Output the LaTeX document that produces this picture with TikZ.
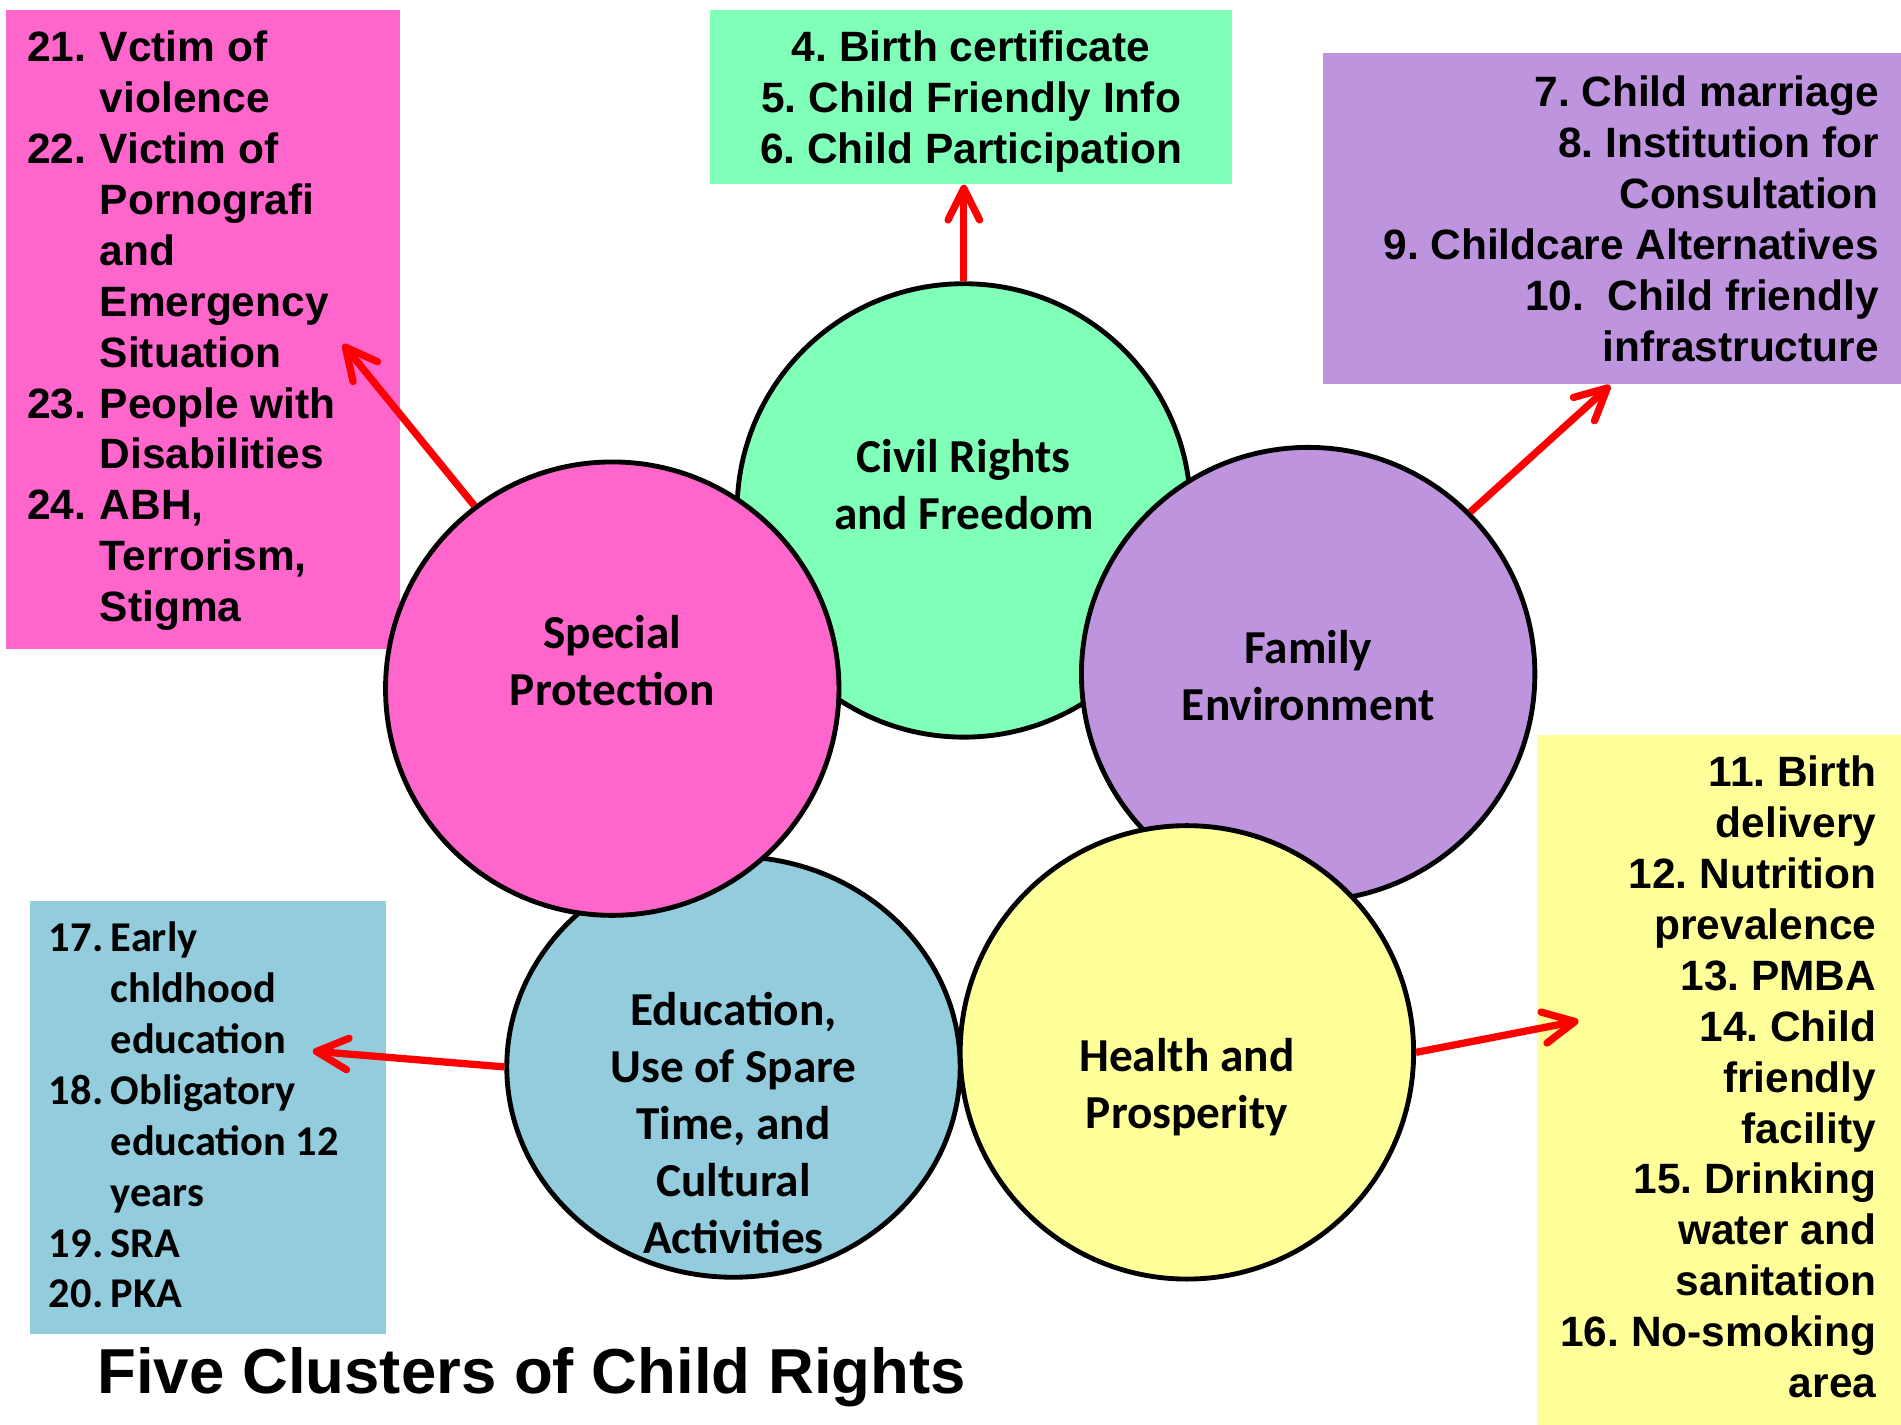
\documentclass[tikz,border=0pt]{standalone}
\usepackage{fontspec}
\setmainfont{Liberation Sans}[Ligatures=NoCommon]
\newfontfamily\calib{Carlito}
\usetikzlibrary{arrows.meta,shapes.geometric}
\definecolor{cpink}{HTML}{FF66CC}
\definecolor{cmint}{HTML}{80FFB9}
\definecolor{cpurp}{HTML}{BF94DE}
\definecolor{cyell}{HTML}{FFFF99}
\definecolor{cblue}{HTML}{93CDDD}
\frenchspacing
\tikzset{
  box/.style={rectangle, inner sep=0pt, draw=none},
  clus/.style={circle, draw=black, line width=2pt, inner sep=0pt, minimum size=187pt},
  boxtext/.style={inner sep=0pt, font=\frenchspacing\fontsize{17.5}{21}\selectfont\bfseries},
  caltext/.style={inner sep=0pt, font=\frenchspacing\calib\fontsize{17.5}{21}\selectfont\bfseries},
  circtext/.style={inner sep=0pt, anchor=north, font=\calib\fontsize{19.5}{23.5}\selectfont\bfseries},
  redarrow/.style={draw=red, line width=3pt, -{Straight Barb[length=13pt,width=13pt,round]}}
}
\begin{document}
\begin{tikzpicture}[x=0.5pt,y=-0.5pt]
\useasboundingbox (0,0) rectangle (1568,1175);
% boxes
\node[box, fill=cpink, minimum width=162.5pt, minimum height=263.5pt] (pbox) at (167.5,271.5) {};
\node[box, fill=cmint, minimum width=215pt, minimum height=72pt] (gbox) at (801,80) {};
\node[box, fill=cpurp, minimum width=238.5pt, minimum height=136.5pt] (fbox) at (1329.5,180.5) {};
\node[box, fill=cyell, minimum width=150pt, minimum height=284.5pt] (hbox) at (1418,890.5) {};
\node[box, fill=cblue, minimum width=146.5pt, minimum height=178.5pt] (ebox) at (171.5,921.5) {};
% box texts
\node[boxtext, anchor=north west] (ptext) at (22,21) {\begin{tabular}{@{}p{30pt}@{}l@{}}
21. & Vctim of\\
 & violence\\
22. & Victim of\\
 & Pornografi\\
 & and\\
 & Emergency\\
 & Situation\\
23. & People with\\
 & Disabilities\\
24. & ABH,\\
 & Terrorism,\\
 & Stigma
\end{tabular}};
\node[boxtext, anchor=north] (gtext) at (801,21) {\begin{tabular}{@{}c@{}}
4. Birth certificate\\
5. Child Friendly Info\\
6. Child Participation
\end{tabular}};
\node[boxtext, anchor=north east] (ftext) at (1550,58) {\begin{tabular}{@{}r@{}}
7. Child marriage\\
8. Institution for\\
Consultation\\
9. Childcare Alternatives\\
10.\ \ Child friendly\\
infrastructure
\end{tabular}};
\node[boxtext, anchor=north east] (htext) at (1548,619) {\begin{tabular}{@{}r@{}}
11. Birth\\
delivery\\
12. Nutrition\\
prevalence\\
13. PMBA\\
14. Child\\
friendly\\
facility\\
15. Drinking\\
water and\\
sanitation\\
16. No-smoking\\
area
\end{tabular}};
\node[caltext, anchor=north west] (etext) at (40,755) {\begin{tabular}{@{}p{25.5pt}@{}l@{}}
17. & Early\\
 & chldhood\\
 & education\\
18. & Obligatory\\
 & education 12\\
 & years\\
19. & SRA\\
20. & PKA
\end{tabular}};
% circles
\node[clus, fill=cmint] (gc) at (795,421) {};
\node[ellipse, draw=black, line width=2pt, inner sep=0pt, minimum width=187pt, minimum height=173.5pt, fill=cblue] (ec) at (605,880) {};
\node[clus, fill=cpurp] (fc) at (1079,556) {};
\node[clus, fill=cpink] (pc) at (505,568) {};
\node[clus, fill=cyell] (hc) at (979,868) {};
% circle texts
\node[circtext] (gct) at (795,356.6) {\begin{tabular}{@{}c@{}}Civil Rights\\and Freedom\end{tabular}};
\node[circtext] (pct) at (505,501.6) {\begin{tabular}{@{}c@{}}Special\\Protection\end{tabular}};
\node[circtext] (fct) at (1079,513.6) {\begin{tabular}{@{}c@{}}Family\\Environment\end{tabular}};
\node[circtext] (ect) at (605,812.6) {\begin{tabular}{@{}c@{}}Education,\\Use of Spare\\Time, and\\Cultural\\Activities\end{tabular}};
\node[circtext] (hct) at (979,850.6) {\begin{tabular}{@{}c@{}}Health and\\Prosperity\end{tabular}};
% arrow tips
\coordinate (ptip) at (283,284);
\coordinate (ftip) at (1328,318);
\coordinate (etip) at (258,867);
\coordinate (htip) at (1302,842);
\draw[redarrow] (pc.127) -- (ptip);
\draw[redarrow] (gc.north) -- (gc.north |- gbox.south);
\draw[redarrow] (fc.45) -- (ftip);
\draw[redarrow] (ec.west) -- (etip);
\draw[redarrow] (hc.east) -- (htip);
% title
\node[inner sep=0pt, anchor=base, font=\fontsize{26.2}{31}\selectfont\bfseries] (title) at (438.5,1149) {Five Clusters of Child Rights};
\end{tikzpicture}
\end{document}
